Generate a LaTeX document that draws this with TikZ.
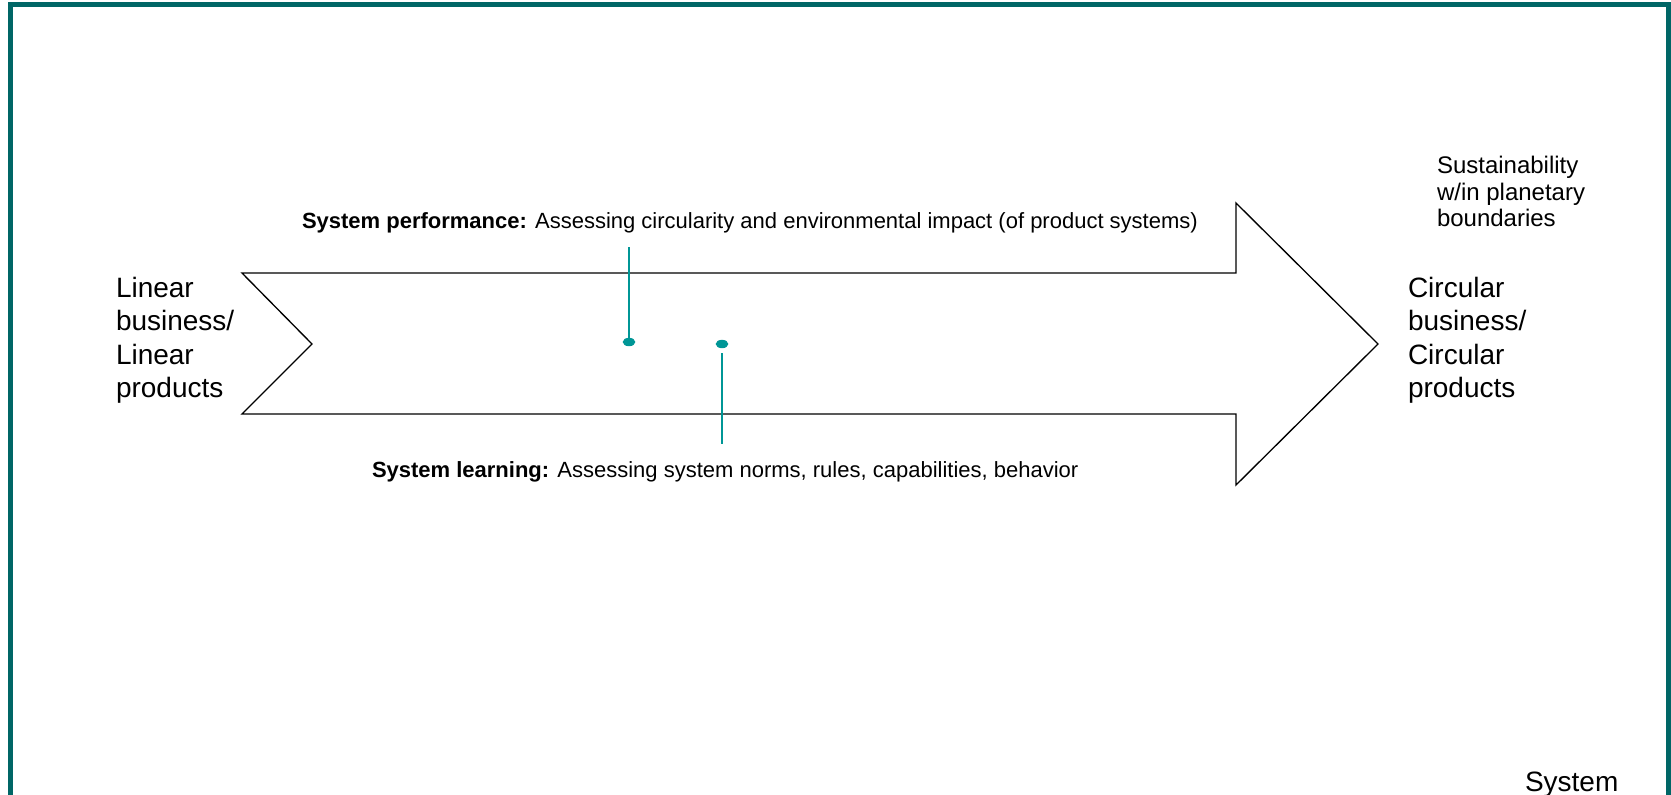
\documentclass[tikz,border=0pt]{standalone}
\usepackage{fontspec}
\setmainfont{Liberation Sans}
\usetikzlibrary{shapes.geometric}
\definecolor{frameteal}{RGB}{0,102,102}
\definecolor{dotteal}{RGB}{0,150,150}
\tikzset{
  frameline/.style={draw=frameteal, line width=4pt},
  bigarrow/.style={draw=black, line width=1pt, line join=miter},
  dotmark/.style={ellipse, fill=dotteal, draw=none, minimum width=9.5pt, minimum height=6.3pt, inner sep=0pt},
  leader/.style={draw=dotteal, line width=1.5pt},
  txt/.style={inner sep=0pt, outer sep=0pt, anchor=base west, text=black}
}
\newcommand{\bigtxt}{\fontsize{21pt}{25pt}\selectfont}
\newcommand{\midtxt}{\fontsize{18pt}{20pt}\selectfont}
\newcommand{\smalltxt}{\fontsize{16.5pt}{19pt}\selectfont}
\begin{document}
\begin{tikzpicture}[x=0.75pt,y=-0.75pt]
\useasboundingbox (0,0) rectangle (1671,794);
\fill[white] (0,0) rectangle (1671,794);
% frame (bottom edge lies outside the picture)
\begin{scope}
\clip (0,0) rectangle (1671,794);
\draw[frameline] (10.7,810) -- (10.7,4.2) -- (1668.5,4.2) -- (1668.5,810);
\end{scope}
% main arrow
\draw[bigarrow] (242,273) -- (1236,273) -- (1236,203) -- (1378,344) -- (1236,485) -- (1236,414) -- (242,414) -- (312,344) -- cycle;
% side texts
\node[txt] (linear) at (116,297.5) {\bigtxt\begin{tabular}[t]{@{}l@{}}Linear\\business/\\Linear\\products\end{tabular}};
\node[txt] (circular) at (1408,297.5) {\bigtxt\begin{tabular}[t]{@{}l@{}}Circular\\business/\\Circular\\products\end{tabular}};
\node[txt] (sust) at (1437,173.5) {\midtxt\begin{tabular}[t]{@{}l@{}}Sustainability\\w/in planetary\\boundaries\end{tabular}};
\node[txt] (system) at (1525,791) {\bigtxt System};
% labels
\node[txt] (perf) at (302,228.3) {\smalltxt\textbf{System performance:} Assessing circularity and environmental impact (of product systems)};
\node[txt] (learn) at (372,477.5) {\smalltxt\textbf{System learning:} Assessing system norms, rules, capabilities, behavior};
% dots and leaders
\node[dotmark] (dot1) at (629,342) {};
\node[dotmark] (dot2) at (722,344) {};
\coordinate (c1) at (629,247);
\coordinate (c2) at (722,444);
\coordinate (c2top) at (722,353);
\draw[leader] (c1) -- (dot1.center);
\draw[leader] (c2top) -- (c2);
\end{tikzpicture}
\end{document}
